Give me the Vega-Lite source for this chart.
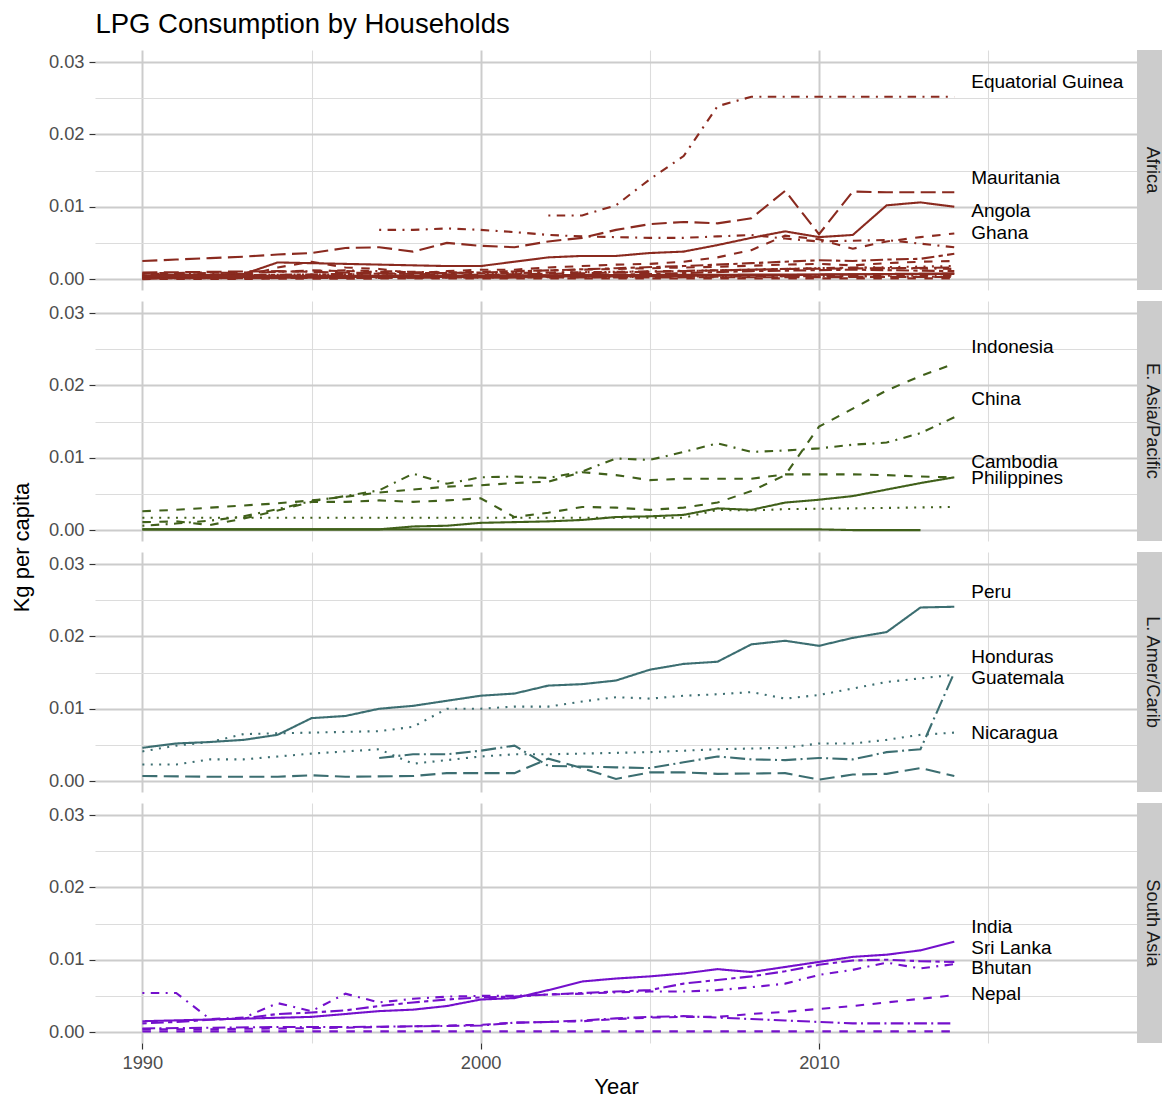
{
  "$schema": "https://vega.github.io/schema/vega-lite/v6.json",
  "padding": {"left": 10, "top": 10, "right": 0, "bottom": 0},
  "title": {"text": "LPG Consumption by Households", "anchor": "start", "fontSize": 27.5, "fontWeight": "normal", "color": "#000000", "offset": 12, "dx": 85},
  "datasets": {
    "labels": [
      {"region": "Africa", "country": "Equatorial Guinea", "year": 2014.5, "value": 0.02724},
      {"region": "Africa", "country": "Mauritania", "year": 2014.5, "value": 0.01396},
      {"region": "Africa", "country": "Angola", "year": 2014.5, "value": 0.0094},
      {"region": "Africa", "country": "Ghana", "year": 2014.5, "value": 0.00636},
      {"region": "E. Asia/Pacific", "country": "Indonesia", "year": 2014.5, "value": 0.0253},
      {"region": "E. Asia/Pacific", "country": "China", "year": 2014.5, "value": 0.0181},
      {"region": "E. Asia/Pacific", "country": "Cambodia", "year": 2014.5, "value": 0.0094},
      {"region": "E. Asia/Pacific", "country": "Philippines", "year": 2014.5, "value": 0.0072},
      {"region": "L. Amer/Carib", "country": "Peru", "year": 2014.5, "value": 0.02613},
      {"region": "L. Amer/Carib", "country": "Honduras", "year": 2014.5, "value": 0.01714},
      {"region": "L. Amer/Carib", "country": "Guatemala", "year": 2014.5, "value": 0.01424},
      {"region": "L. Amer/Carib", "country": "Nicaragua", "year": 2014.5, "value": 0.00664},
      {"region": "South Asia", "country": "India", "year": 2014.5, "value": 0.01452},
      {"region": "South Asia", "country": "Sri Lanka", "year": 2014.5, "value": 0.01161},
      {"region": "South Asia", "country": "Bhutan", "year": 2014.5, "value": 0.00885},
      {"region": "South Asia", "country": "Nepal", "year": 2014.5, "value": 0.00525}
    ],
    "strips": [
      {"region": "Africa"}, {"region": "E. Asia/Pacific"}, {"region": "L. Amer/Carib"}, {"region": "South Asia"}
    ],
    "lpg": [
      {"region": "Africa", "country": "Equatorial Guinea", "year": 2002, "value": 0.0088},
      {"region": "Africa", "country": "Equatorial Guinea", "year": 2003, "value": 0.0088},
      {"region": "Africa", "country": "Equatorial Guinea", "year": 2004, "value": 0.0102},
      {"region": "Africa", "country": "Equatorial Guinea", "year": 2005, "value": 0.0138},
      {"region": "Africa", "country": "Equatorial Guinea", "year": 2006, "value": 0.0170},
      {"region": "Africa", "country": "Equatorial Guinea", "year": 2007, "value": 0.0239},
      {"region": "Africa", "country": "Equatorial Guinea", "year": 2008, "value": 0.0252},
      {"region": "Africa", "country": "Equatorial Guinea", "year": 2009, "value": 0.0252},
      {"region": "Africa", "country": "Equatorial Guinea", "year": 2010, "value": 0.0252},
      {"region": "Africa", "country": "Equatorial Guinea", "year": 2011, "value": 0.0252},
      {"region": "Africa", "country": "Equatorial Guinea", "year": 2012, "value": 0.0252},
      {"region": "Africa", "country": "Equatorial Guinea", "year": 2013, "value": 0.0252},
      {"region": "Africa", "country": "Equatorial Guinea", "year": 2014, "value": 0.0252},
      {"region": "Africa", "country": "Mauritania", "year": 1990, "value": 0.0025},
      {"region": "Africa", "country": "Mauritania", "year": 1991, "value": 0.0027},
      {"region": "Africa", "country": "Mauritania", "year": 1992, "value": 0.0029},
      {"region": "Africa", "country": "Mauritania", "year": 1993, "value": 0.0031},
      {"region": "Africa", "country": "Mauritania", "year": 1994, "value": 0.0034},
      {"region": "Africa", "country": "Mauritania", "year": 1995, "value": 0.0036},
      {"region": "Africa", "country": "Mauritania", "year": 1996, "value": 0.0043},
      {"region": "Africa", "country": "Mauritania", "year": 1997, "value": 0.0044},
      {"region": "Africa", "country": "Mauritania", "year": 1998, "value": 0.0038},
      {"region": "Africa", "country": "Mauritania", "year": 1999, "value": 0.0050},
      {"region": "Africa", "country": "Mauritania", "year": 2000, "value": 0.0046},
      {"region": "Africa", "country": "Mauritania", "year": 2001, "value": 0.0044},
      {"region": "Africa", "country": "Mauritania", "year": 2002, "value": 0.0052},
      {"region": "Africa", "country": "Mauritania", "year": 2003, "value": 0.0057},
      {"region": "Africa", "country": "Mauritania", "year": 2004, "value": 0.0068},
      {"region": "Africa", "country": "Mauritania", "year": 2005, "value": 0.0076},
      {"region": "Africa", "country": "Mauritania", "year": 2006, "value": 0.0079},
      {"region": "Africa", "country": "Mauritania", "year": 2007, "value": 0.0077},
      {"region": "Africa", "country": "Mauritania", "year": 2008, "value": 0.0084},
      {"region": "Africa", "country": "Mauritania", "year": 2009, "value": 0.0122},
      {"region": "Africa", "country": "Mauritania", "year": 2010, "value": 0.0062},
      {"region": "Africa", "country": "Mauritania", "year": 2011, "value": 0.0121},
      {"region": "Africa", "country": "Mauritania", "year": 2012, "value": 0.0120},
      {"region": "Africa", "country": "Mauritania", "year": 2013, "value": 0.0120},
      {"region": "Africa", "country": "Mauritania", "year": 2014, "value": 0.0120},
      {"region": "Africa", "country": "Angola", "year": 1990, "value": 0.0005},
      {"region": "Africa", "country": "Angola", "year": 1991, "value": 0.0006},
      {"region": "Africa", "country": "Angola", "year": 1992, "value": 0.0006},
      {"region": "Africa", "country": "Angola", "year": 1993, "value": 0.0007},
      {"region": "Africa", "country": "Angola", "year": 1994, "value": 0.0023},
      {"region": "Africa", "country": "Angola", "year": 1995, "value": 0.0022},
      {"region": "Africa", "country": "Angola", "year": 1996, "value": 0.0021},
      {"region": "Africa", "country": "Angola", "year": 1997, "value": 0.0020},
      {"region": "Africa", "country": "Angola", "year": 1998, "value": 0.0019},
      {"region": "Africa", "country": "Angola", "year": 1999, "value": 0.0018},
      {"region": "Africa", "country": "Angola", "year": 2000, "value": 0.0018},
      {"region": "Africa", "country": "Angola", "year": 2001, "value": 0.0024},
      {"region": "Africa", "country": "Angola", "year": 2002, "value": 0.0030},
      {"region": "Africa", "country": "Angola", "year": 2003, "value": 0.0032},
      {"region": "Africa", "country": "Angola", "year": 2004, "value": 0.0032},
      {"region": "Africa", "country": "Angola", "year": 2005, "value": 0.0036},
      {"region": "Africa", "country": "Angola", "year": 2006, "value": 0.0038},
      {"region": "Africa", "country": "Angola", "year": 2007, "value": 0.0047},
      {"region": "Africa", "country": "Angola", "year": 2008, "value": 0.0057},
      {"region": "Africa", "country": "Angola", "year": 2009, "value": 0.0066},
      {"region": "Africa", "country": "Angola", "year": 2010, "value": 0.0058},
      {"region": "Africa", "country": "Angola", "year": 2011, "value": 0.0061},
      {"region": "Africa", "country": "Angola", "year": 2012, "value": 0.0102},
      {"region": "Africa", "country": "Angola", "year": 2013, "value": 0.0106},
      {"region": "Africa", "country": "Angola", "year": 2014, "value": 0.0100},
      {"region": "Africa", "country": "Gabon", "year": 1997, "value": 0.0068},
      {"region": "Africa", "country": "Gabon", "year": 1998, "value": 0.0068},
      {"region": "Africa", "country": "Gabon", "year": 1999, "value": 0.0070},
      {"region": "Africa", "country": "Gabon", "year": 2000, "value": 0.0068},
      {"region": "Africa", "country": "Gabon", "year": 2001, "value": 0.0065},
      {"region": "Africa", "country": "Gabon", "year": 2002, "value": 0.0061},
      {"region": "Africa", "country": "Gabon", "year": 2003, "value": 0.0059},
      {"region": "Africa", "country": "Gabon", "year": 2004, "value": 0.0058},
      {"region": "Africa", "country": "Gabon", "year": 2005, "value": 0.0057},
      {"region": "Africa", "country": "Gabon", "year": 2006, "value": 0.0057},
      {"region": "Africa", "country": "Gabon", "year": 2007, "value": 0.0059},
      {"region": "Africa", "country": "Gabon", "year": 2008, "value": 0.0061},
      {"region": "Africa", "country": "Gabon", "year": 2009, "value": 0.0056},
      {"region": "Africa", "country": "Gabon", "year": 2010, "value": 0.0052},
      {"region": "Africa", "country": "Gabon", "year": 2011, "value": 0.0053},
      {"region": "Africa", "country": "Gabon", "year": 2012, "value": 0.0054},
      {"region": "Africa", "country": "Gabon", "year": 2013, "value": 0.0049},
      {"region": "Africa", "country": "Gabon", "year": 2014, "value": 0.0044},
      {"region": "Africa", "country": "Ghana", "year": 1990, "value": 0.0003},
      {"region": "Africa", "country": "Ghana", "year": 1991, "value": 0.0003},
      {"region": "Africa", "country": "Ghana", "year": 1992, "value": 0.0004},
      {"region": "Africa", "country": "Ghana", "year": 1993, "value": 0.0004},
      {"region": "Africa", "country": "Ghana", "year": 1994, "value": 0.0016},
      {"region": "Africa", "country": "Ghana", "year": 1995, "value": 0.0024},
      {"region": "Africa", "country": "Ghana", "year": 1996, "value": 0.0016},
      {"region": "Africa", "country": "Ghana", "year": 1997, "value": 0.0014},
      {"region": "Africa", "country": "Ghana", "year": 1998, "value": 0.0008},
      {"region": "Africa", "country": "Ghana", "year": 1999, "value": 0.0011},
      {"region": "Africa", "country": "Ghana", "year": 2000, "value": 0.0013},
      {"region": "Africa", "country": "Ghana", "year": 2001, "value": 0.0013},
      {"region": "Africa", "country": "Ghana", "year": 2002, "value": 0.0016},
      {"region": "Africa", "country": "Ghana", "year": 2003, "value": 0.0018},
      {"region": "Africa", "country": "Ghana", "year": 2004, "value": 0.0020},
      {"region": "Africa", "country": "Ghana", "year": 2005, "value": 0.0021},
      {"region": "Africa", "country": "Ghana", "year": 2006, "value": 0.0024},
      {"region": "Africa", "country": "Ghana", "year": 2007, "value": 0.0030},
      {"region": "Africa", "country": "Ghana", "year": 2008, "value": 0.0040},
      {"region": "Africa", "country": "Ghana", "year": 2009, "value": 0.0060},
      {"region": "Africa", "country": "Ghana", "year": 2010, "value": 0.0055},
      {"region": "Africa", "country": "Ghana", "year": 2011, "value": 0.0042},
      {"region": "Africa", "country": "Ghana", "year": 2012, "value": 0.0052},
      {"region": "Africa", "country": "Ghana", "year": 2013, "value": 0.0058},
      {"region": "Africa", "country": "Ghana", "year": 2014, "value": 0.0063},
      {"region": "Africa", "country": "Nigeria", "year": 1990, "value": 0.0005},
      {"region": "Africa", "country": "Nigeria", "year": 1992, "value": 0.0005},
      {"region": "Africa", "country": "Nigeria", "year": 1994, "value": 0.0006},
      {"region": "Africa", "country": "Nigeria", "year": 1996, "value": 0.0007},
      {"region": "Africa", "country": "Nigeria", "year": 1998, "value": 0.0008},
      {"region": "Africa", "country": "Nigeria", "year": 2000, "value": 0.0009},
      {"region": "Africa", "country": "Nigeria", "year": 2002, "value": 0.0012},
      {"region": "Africa", "country": "Nigeria", "year": 2004, "value": 0.0015},
      {"region": "Africa", "country": "Nigeria", "year": 2006, "value": 0.0018},
      {"region": "Africa", "country": "Nigeria", "year": 2008, "value": 0.0022},
      {"region": "Africa", "country": "Nigeria", "year": 2010, "value": 0.0026},
      {"region": "Africa", "country": "Nigeria", "year": 2011, "value": 0.0025},
      {"region": "Africa", "country": "Nigeria", "year": 2012, "value": 0.0027},
      {"region": "Africa", "country": "Nigeria", "year": 2013, "value": 0.0028},
      {"region": "Africa", "country": "Nigeria", "year": 2014, "value": 0.0035},
      {"region": "Africa", "country": "Cameroon", "year": 1990, "value": 0.0008},
      {"region": "Africa", "country": "Cameroon", "year": 1992, "value": 0.0009},
      {"region": "Africa", "country": "Cameroon", "year": 1993, "value": 0.0008},
      {"region": "Africa", "country": "Cameroon", "year": 1995, "value": 0.0012},
      {"region": "Africa", "country": "Cameroon", "year": 1997, "value": 0.0010},
      {"region": "Africa", "country": "Cameroon", "year": 1999, "value": 0.0009},
      {"region": "Africa", "country": "Cameroon", "year": 2001, "value": 0.0011},
      {"region": "Africa", "country": "Cameroon", "year": 2003, "value": 0.0013},
      {"region": "Africa", "country": "Cameroon", "year": 2005, "value": 0.0015},
      {"region": "Africa", "country": "Cameroon", "year": 2007, "value": 0.0017},
      {"region": "Africa", "country": "Cameroon", "year": 2009, "value": 0.0020},
      {"region": "Africa", "country": "Cameroon", "year": 2010, "value": 0.0021},
      {"region": "Africa", "country": "Cameroon", "year": 2011, "value": 0.0019},
      {"region": "Africa", "country": "Cameroon", "year": 2012, "value": 0.0022},
      {"region": "Africa", "country": "Cameroon", "year": 2013, "value": 0.0024},
      {"region": "Africa", "country": "Cameroon", "year": 2014, "value": 0.0025},
      {"region": "Africa", "country": "Cote d'Ivoire", "year": 1990, "value": 0.0006},
      {"region": "Africa", "country": "Cote d'Ivoire", "year": 1994, "value": 0.0006},
      {"region": "Africa", "country": "Cote d'Ivoire", "year": 1998, "value": 0.0007},
      {"region": "Africa", "country": "Cote d'Ivoire", "year": 2002, "value": 0.0009},
      {"region": "Africa", "country": "Cote d'Ivoire", "year": 2006, "value": 0.0011},
      {"region": "Africa", "country": "Cote d'Ivoire", "year": 2010, "value": 0.0015},
      {"region": "Africa", "country": "Cote d'Ivoire", "year": 2014, "value": 0.0018},
      {"region": "Africa", "country": "Senegal", "year": 1990, "value": 0.0009},
      {"region": "Africa", "country": "Senegal", "year": 1992, "value": 0.0010},
      {"region": "Africa", "country": "Senegal", "year": 1994, "value": 0.0011},
      {"region": "Africa", "country": "Senegal", "year": 1996, "value": 0.0009},
      {"region": "Africa", "country": "Senegal", "year": 1998, "value": 0.0007},
      {"region": "Africa", "country": "Senegal", "year": 2000, "value": 0.0006},
      {"region": "Africa", "country": "Senegal", "year": 2003, "value": 0.0008},
      {"region": "Africa", "country": "Senegal", "year": 2006, "value": 0.0011},
      {"region": "Africa", "country": "Senegal", "year": 2009, "value": 0.0014},
      {"region": "Africa", "country": "Senegal", "year": 2012, "value": 0.0015},
      {"region": "Africa", "country": "Senegal", "year": 2014, "value": 0.0016},
      {"region": "Africa", "country": "Kenya", "year": 1990, "value": 0.0002},
      {"region": "Africa", "country": "Kenya", "year": 1995, "value": 0.0003},
      {"region": "Africa", "country": "Kenya", "year": 2000, "value": 0.0003},
      {"region": "Africa", "country": "Kenya", "year": 2005, "value": 0.0004},
      {"region": "Africa", "country": "Kenya", "year": 2010, "value": 0.0006},
      {"region": "Africa", "country": "Kenya", "year": 2014, "value": 0.0008},
      {"region": "Africa", "country": "Sudan", "year": 1990, "value": 0.0001},
      {"region": "Africa", "country": "Sudan", "year": 1995, "value": 0.0002},
      {"region": "Africa", "country": "Sudan", "year": 2000, "value": 0.0004},
      {"region": "Africa", "country": "Sudan", "year": 2005, "value": 0.0007},
      {"region": "Africa", "country": "Sudan", "year": 2008, "value": 0.0011},
      {"region": "Africa", "country": "Sudan", "year": 2011, "value": 0.0013},
      {"region": "Africa", "country": "Sudan", "year": 2014, "value": 0.0011},
      {"region": "Africa", "country": "Zambia", "year": 1990, "value": 0.0003},
      {"region": "Africa", "country": "Zambia", "year": 2000, "value": 0.0003},
      {"region": "Africa", "country": "Zambia", "year": 2010, "value": 0.0004},
      {"region": "Africa", "country": "Zambia", "year": 2014, "value": 0.0003},
      {"region": "Africa", "country": "Tanzania", "year": 1990, "value": 0.0001},
      {"region": "Africa", "country": "Tanzania", "year": 1998, "value": 0.0002},
      {"region": "Africa", "country": "Tanzania", "year": 2005, "value": 0.0003},
      {"region": "Africa", "country": "Tanzania", "year": 2014, "value": 0.0005},
      {"region": "Africa", "country": "Ethiopia", "year": 1990, "value": 0.0000},
      {"region": "Africa", "country": "Ethiopia", "year": 2000, "value": 0.0001},
      {"region": "Africa", "country": "Ethiopia", "year": 2014, "value": 0.0001},
      {"region": "Africa", "country": "Mozambique", "year": 1990, "value": 0.0001},
      {"region": "Africa", "country": "Mozambique", "year": 2000, "value": 0.0002},
      {"region": "Africa", "country": "Mozambique", "year": 2014, "value": 0.0003},
      {"region": "Africa", "country": "Togo", "year": 1990, "value": 0.0004},
      {"region": "Africa", "country": "Togo", "year": 2000, "value": 0.0005},
      {"region": "Africa", "country": "Togo", "year": 2014, "value": 0.0007},
      {"region": "Africa", "country": "Congo", "year": 1990, "value": 0.0007},
      {"region": "Africa", "country": "Congo", "year": 1993, "value": 0.0009},
      {"region": "Africa", "country": "Congo", "year": 1996, "value": 0.0012},
      {"region": "Africa", "country": "Congo", "year": 2000, "value": 0.0008},
      {"region": "Africa", "country": "Congo", "year": 2004, "value": 0.0010},
      {"region": "Africa", "country": "Congo", "year": 2008, "value": 0.0013},
      {"region": "Africa", "country": "Congo", "year": 2011, "value": 0.0016},
      {"region": "Africa", "country": "Congo", "year": 2014, "value": 0.0014},
      {"region": "E. Asia/Pacific", "country": "Indonesia", "year": 1990, "value": 0.0011},
      {"region": "E. Asia/Pacific", "country": "Indonesia", "year": 1991, "value": 0.0012},
      {"region": "E. Asia/Pacific", "country": "Indonesia", "year": 1992, "value": 0.0007},
      {"region": "E. Asia/Pacific", "country": "Indonesia", "year": 1993, "value": 0.0016},
      {"region": "E. Asia/Pacific", "country": "Indonesia", "year": 1994, "value": 0.0027},
      {"region": "E. Asia/Pacific", "country": "Indonesia", "year": 1995, "value": 0.0039},
      {"region": "E. Asia/Pacific", "country": "Indonesia", "year": 1996, "value": 0.0039},
      {"region": "E. Asia/Pacific", "country": "Indonesia", "year": 1997, "value": 0.0041},
      {"region": "E. Asia/Pacific", "country": "Indonesia", "year": 1998, "value": 0.0039},
      {"region": "E. Asia/Pacific", "country": "Indonesia", "year": 1999, "value": 0.0041},
      {"region": "E. Asia/Pacific", "country": "Indonesia", "year": 2000, "value": 0.0044},
      {"region": "E. Asia/Pacific", "country": "Indonesia", "year": 2001, "value": 0.0018},
      {"region": "E. Asia/Pacific", "country": "Indonesia", "year": 2002, "value": 0.0024},
      {"region": "E. Asia/Pacific", "country": "Indonesia", "year": 2003, "value": 0.0032},
      {"region": "E. Asia/Pacific", "country": "Indonesia", "year": 2004, "value": 0.0031},
      {"region": "E. Asia/Pacific", "country": "Indonesia", "year": 2005, "value": 0.0028},
      {"region": "E. Asia/Pacific", "country": "Indonesia", "year": 2006, "value": 0.0031},
      {"region": "E. Asia/Pacific", "country": "Indonesia", "year": 2007, "value": 0.0038},
      {"region": "E. Asia/Pacific", "country": "Indonesia", "year": 2008, "value": 0.0054},
      {"region": "E. Asia/Pacific", "country": "Indonesia", "year": 2009, "value": 0.0076},
      {"region": "E. Asia/Pacific", "country": "Indonesia", "year": 2010, "value": 0.0143},
      {"region": "E. Asia/Pacific", "country": "Indonesia", "year": 2011, "value": 0.0168},
      {"region": "E. Asia/Pacific", "country": "Indonesia", "year": 2012, "value": 0.0193},
      {"region": "E. Asia/Pacific", "country": "Indonesia", "year": 2013, "value": 0.0213},
      {"region": "E. Asia/Pacific", "country": "Indonesia", "year": 2014, "value": 0.0230},
      {"region": "E. Asia/Pacific", "country": "China", "year": 1990, "value": 0.0006},
      {"region": "E. Asia/Pacific", "country": "China", "year": 1991, "value": 0.0009},
      {"region": "E. Asia/Pacific", "country": "China", "year": 1992, "value": 0.0013},
      {"region": "E. Asia/Pacific", "country": "China", "year": 1993, "value": 0.0019},
      {"region": "E. Asia/Pacific", "country": "China", "year": 1994, "value": 0.0029},
      {"region": "E. Asia/Pacific", "country": "China", "year": 1995, "value": 0.0040},
      {"region": "E. Asia/Pacific", "country": "China", "year": 1996, "value": 0.0047},
      {"region": "E. Asia/Pacific", "country": "China", "year": 1997, "value": 0.0055},
      {"region": "E. Asia/Pacific", "country": "China", "year": 1998, "value": 0.0078},
      {"region": "E. Asia/Pacific", "country": "China", "year": 1999, "value": 0.0064},
      {"region": "E. Asia/Pacific", "country": "China", "year": 2000, "value": 0.0073},
      {"region": "E. Asia/Pacific", "country": "China", "year": 2001, "value": 0.0074},
      {"region": "E. Asia/Pacific", "country": "China", "year": 2002, "value": 0.0072},
      {"region": "E. Asia/Pacific", "country": "China", "year": 2003, "value": 0.0081},
      {"region": "E. Asia/Pacific", "country": "China", "year": 2004, "value": 0.0099},
      {"region": "E. Asia/Pacific", "country": "China", "year": 2005, "value": 0.0097},
      {"region": "E. Asia/Pacific", "country": "China", "year": 2006, "value": 0.0108},
      {"region": "E. Asia/Pacific", "country": "China", "year": 2007, "value": 0.0120},
      {"region": "E. Asia/Pacific", "country": "China", "year": 2008, "value": 0.0108},
      {"region": "E. Asia/Pacific", "country": "China", "year": 2009, "value": 0.0110},
      {"region": "E. Asia/Pacific", "country": "China", "year": 2010, "value": 0.0113},
      {"region": "E. Asia/Pacific", "country": "China", "year": 2011, "value": 0.0118},
      {"region": "E. Asia/Pacific", "country": "China", "year": 2012, "value": 0.0121},
      {"region": "E. Asia/Pacific", "country": "China", "year": 2013, "value": 0.0134},
      {"region": "E. Asia/Pacific", "country": "China", "year": 2014, "value": 0.0156},
      {"region": "E. Asia/Pacific", "country": "Cambodia", "year": 1990, "value": 0.0026},
      {"region": "E. Asia/Pacific", "country": "Cambodia", "year": 1991, "value": 0.0028},
      {"region": "E. Asia/Pacific", "country": "Cambodia", "year": 1992, "value": 0.0031},
      {"region": "E. Asia/Pacific", "country": "Cambodia", "year": 1993, "value": 0.0034},
      {"region": "E. Asia/Pacific", "country": "Cambodia", "year": 1994, "value": 0.0037},
      {"region": "E. Asia/Pacific", "country": "Cambodia", "year": 1995, "value": 0.0041},
      {"region": "E. Asia/Pacific", "country": "Cambodia", "year": 1996, "value": 0.0046},
      {"region": "E. Asia/Pacific", "country": "Cambodia", "year": 1997, "value": 0.0052},
      {"region": "E. Asia/Pacific", "country": "Cambodia", "year": 1998, "value": 0.0056},
      {"region": "E. Asia/Pacific", "country": "Cambodia", "year": 1999, "value": 0.0060},
      {"region": "E. Asia/Pacific", "country": "Cambodia", "year": 2000, "value": 0.0062},
      {"region": "E. Asia/Pacific", "country": "Cambodia", "year": 2001, "value": 0.0065},
      {"region": "E. Asia/Pacific", "country": "Cambodia", "year": 2002, "value": 0.0067},
      {"region": "E. Asia/Pacific", "country": "Cambodia", "year": 2003, "value": 0.0080},
      {"region": "E. Asia/Pacific", "country": "Cambodia", "year": 2004, "value": 0.0076},
      {"region": "E. Asia/Pacific", "country": "Cambodia", "year": 2005, "value": 0.0069},
      {"region": "E. Asia/Pacific", "country": "Cambodia", "year": 2006, "value": 0.0071},
      {"region": "E. Asia/Pacific", "country": "Cambodia", "year": 2007, "value": 0.0071},
      {"region": "E. Asia/Pacific", "country": "Cambodia", "year": 2008, "value": 0.0071},
      {"region": "E. Asia/Pacific", "country": "Cambodia", "year": 2009, "value": 0.0077},
      {"region": "E. Asia/Pacific", "country": "Cambodia", "year": 2010, "value": 0.0077},
      {"region": "E. Asia/Pacific", "country": "Cambodia", "year": 2011, "value": 0.0077},
      {"region": "E. Asia/Pacific", "country": "Cambodia", "year": 2012, "value": 0.0076},
      {"region": "E. Asia/Pacific", "country": "Cambodia", "year": 2013, "value": 0.0074},
      {"region": "E. Asia/Pacific", "country": "Cambodia", "year": 2014, "value": 0.0073},
      {"region": "E. Asia/Pacific", "country": "Philippines", "year": 1990, "value": 0.0001},
      {"region": "E. Asia/Pacific", "country": "Philippines", "year": 1994, "value": 0.0001},
      {"region": "E. Asia/Pacific", "country": "Philippines", "year": 1997, "value": 0.0001},
      {"region": "E. Asia/Pacific", "country": "Philippines", "year": 1998, "value": 0.0005},
      {"region": "E. Asia/Pacific", "country": "Philippines", "year": 1999, "value": 0.0006},
      {"region": "E. Asia/Pacific", "country": "Philippines", "year": 2000, "value": 0.0010},
      {"region": "E. Asia/Pacific", "country": "Philippines", "year": 2001, "value": 0.0011},
      {"region": "E. Asia/Pacific", "country": "Philippines", "year": 2002, "value": 0.0012},
      {"region": "E. Asia/Pacific", "country": "Philippines", "year": 2003, "value": 0.0014},
      {"region": "E. Asia/Pacific", "country": "Philippines", "year": 2004, "value": 0.0018},
      {"region": "E. Asia/Pacific", "country": "Philippines", "year": 2005, "value": 0.0019},
      {"region": "E. Asia/Pacific", "country": "Philippines", "year": 2006, "value": 0.0021},
      {"region": "E. Asia/Pacific", "country": "Philippines", "year": 2007, "value": 0.0030},
      {"region": "E. Asia/Pacific", "country": "Philippines", "year": 2008, "value": 0.0028},
      {"region": "E. Asia/Pacific", "country": "Philippines", "year": 2009, "value": 0.0038},
      {"region": "E. Asia/Pacific", "country": "Philippines", "year": 2010, "value": 0.0042},
      {"region": "E. Asia/Pacific", "country": "Philippines", "year": 2011, "value": 0.0047},
      {"region": "E. Asia/Pacific", "country": "Philippines", "year": 2012, "value": 0.0056},
      {"region": "E. Asia/Pacific", "country": "Philippines", "year": 2013, "value": 0.0065},
      {"region": "E. Asia/Pacific", "country": "Philippines", "year": 2014, "value": 0.0073},
      {"region": "E. Asia/Pacific", "country": "Vietnam", "year": 1990, "value": 0.0017},
      {"region": "E. Asia/Pacific", "country": "Vietnam", "year": 1998, "value": 0.0017},
      {"region": "E. Asia/Pacific", "country": "Vietnam", "year": 2006, "value": 0.0017},
      {"region": "E. Asia/Pacific", "country": "Vietnam", "year": 2007, "value": 0.0028},
      {"region": "E. Asia/Pacific", "country": "Vietnam", "year": 2008, "value": 0.0027},
      {"region": "E. Asia/Pacific", "country": "Vietnam", "year": 2009, "value": 0.0029},
      {"region": "E. Asia/Pacific", "country": "Vietnam", "year": 2011, "value": 0.0030},
      {"region": "E. Asia/Pacific", "country": "Vietnam", "year": 2014, "value": 0.0032},
      {"region": "E. Asia/Pacific", "country": "Mongolia", "year": 1990, "value": 0.0001},
      {"region": "E. Asia/Pacific", "country": "Mongolia", "year": 2000, "value": 0.0001},
      {"region": "E. Asia/Pacific", "country": "Mongolia", "year": 2010, "value": 0.0001},
      {"region": "E. Asia/Pacific", "country": "Mongolia", "year": 2011, "value": 0.0000},
      {"region": "E. Asia/Pacific", "country": "Mongolia", "year": 2013, "value": 0.0000},
      {"region": "L. Amer/Carib", "country": "Peru", "year": 1990, "value": 0.0046},
      {"region": "L. Amer/Carib", "country": "Peru", "year": 1991, "value": 0.0052},
      {"region": "L. Amer/Carib", "country": "Peru", "year": 1992, "value": 0.0054},
      {"region": "L. Amer/Carib", "country": "Peru", "year": 1993, "value": 0.0057},
      {"region": "L. Amer/Carib", "country": "Peru", "year": 1994, "value": 0.0064},
      {"region": "L. Amer/Carib", "country": "Peru", "year": 1995, "value": 0.0087},
      {"region": "L. Amer/Carib", "country": "Peru", "year": 1996, "value": 0.0090},
      {"region": "L. Amer/Carib", "country": "Peru", "year": 1997, "value": 0.0100},
      {"region": "L. Amer/Carib", "country": "Peru", "year": 1998, "value": 0.0104},
      {"region": "L. Amer/Carib", "country": "Peru", "year": 1999, "value": 0.0111},
      {"region": "L. Amer/Carib", "country": "Peru", "year": 2000, "value": 0.0118},
      {"region": "L. Amer/Carib", "country": "Peru", "year": 2001, "value": 0.0121},
      {"region": "L. Amer/Carib", "country": "Peru", "year": 2002, "value": 0.0132},
      {"region": "L. Amer/Carib", "country": "Peru", "year": 2003, "value": 0.0134},
      {"region": "L. Amer/Carib", "country": "Peru", "year": 2004, "value": 0.0139},
      {"region": "L. Amer/Carib", "country": "Peru", "year": 2005, "value": 0.0154},
      {"region": "L. Amer/Carib", "country": "Peru", "year": 2006, "value": 0.0162},
      {"region": "L. Amer/Carib", "country": "Peru", "year": 2007, "value": 0.0165},
      {"region": "L. Amer/Carib", "country": "Peru", "year": 2008, "value": 0.0189},
      {"region": "L. Amer/Carib", "country": "Peru", "year": 2009, "value": 0.0194},
      {"region": "L. Amer/Carib", "country": "Peru", "year": 2010, "value": 0.0187},
      {"region": "L. Amer/Carib", "country": "Peru", "year": 2011, "value": 0.0198},
      {"region": "L. Amer/Carib", "country": "Peru", "year": 2012, "value": 0.0206},
      {"region": "L. Amer/Carib", "country": "Peru", "year": 2013, "value": 0.0240},
      {"region": "L. Amer/Carib", "country": "Peru", "year": 2014, "value": 0.0241},
      {"region": "L. Amer/Carib", "country": "Honduras", "year": 1990, "value": 0.0041},
      {"region": "L. Amer/Carib", "country": "Honduras", "year": 1991, "value": 0.0049},
      {"region": "L. Amer/Carib", "country": "Honduras", "year": 1992, "value": 0.0054},
      {"region": "L. Amer/Carib", "country": "Honduras", "year": 1993, "value": 0.0065},
      {"region": "L. Amer/Carib", "country": "Honduras", "year": 1994, "value": 0.0066},
      {"region": "L. Amer/Carib", "country": "Honduras", "year": 1995, "value": 0.0067},
      {"region": "L. Amer/Carib", "country": "Honduras", "year": 1996, "value": 0.0068},
      {"region": "L. Amer/Carib", "country": "Honduras", "year": 1997, "value": 0.0069},
      {"region": "L. Amer/Carib", "country": "Honduras", "year": 1998, "value": 0.0075},
      {"region": "L. Amer/Carib", "country": "Honduras", "year": 1999, "value": 0.0100},
      {"region": "L. Amer/Carib", "country": "Honduras", "year": 2000, "value": 0.0100},
      {"region": "L. Amer/Carib", "country": "Honduras", "year": 2001, "value": 0.0103},
      {"region": "L. Amer/Carib", "country": "Honduras", "year": 2002, "value": 0.0103},
      {"region": "L. Amer/Carib", "country": "Honduras", "year": 2003, "value": 0.0110},
      {"region": "L. Amer/Carib", "country": "Honduras", "year": 2004, "value": 0.0116},
      {"region": "L. Amer/Carib", "country": "Honduras", "year": 2005, "value": 0.0114},
      {"region": "L. Amer/Carib", "country": "Honduras", "year": 2006, "value": 0.0118},
      {"region": "L. Amer/Carib", "country": "Honduras", "year": 2007, "value": 0.0120},
      {"region": "L. Amer/Carib", "country": "Honduras", "year": 2008, "value": 0.0123},
      {"region": "L. Amer/Carib", "country": "Honduras", "year": 2009, "value": 0.0114},
      {"region": "L. Amer/Carib", "country": "Honduras", "year": 2010, "value": 0.0119},
      {"region": "L. Amer/Carib", "country": "Honduras", "year": 2011, "value": 0.0128},
      {"region": "L. Amer/Carib", "country": "Honduras", "year": 2012, "value": 0.0137},
      {"region": "L. Amer/Carib", "country": "Honduras", "year": 2013, "value": 0.0142},
      {"region": "L. Amer/Carib", "country": "Honduras", "year": 2014, "value": 0.0147},
      {"region": "L. Amer/Carib", "country": "Guatemala", "year": 1997, "value": 0.0032},
      {"region": "L. Amer/Carib", "country": "Guatemala", "year": 1998, "value": 0.0037},
      {"region": "L. Amer/Carib", "country": "Guatemala", "year": 1999, "value": 0.0037},
      {"region": "L. Amer/Carib", "country": "Guatemala", "year": 2000, "value": 0.0042},
      {"region": "L. Amer/Carib", "country": "Guatemala", "year": 2001, "value": 0.0049},
      {"region": "L. Amer/Carib", "country": "Guatemala", "year": 2002, "value": 0.0021},
      {"region": "L. Amer/Carib", "country": "Guatemala", "year": 2003, "value": 0.0020},
      {"region": "L. Amer/Carib", "country": "Guatemala", "year": 2004, "value": 0.0019},
      {"region": "L. Amer/Carib", "country": "Guatemala", "year": 2005, "value": 0.0018},
      {"region": "L. Amer/Carib", "country": "Guatemala", "year": 2006, "value": 0.0026},
      {"region": "L. Amer/Carib", "country": "Guatemala", "year": 2007, "value": 0.0034},
      {"region": "L. Amer/Carib", "country": "Guatemala", "year": 2008, "value": 0.0030},
      {"region": "L. Amer/Carib", "country": "Guatemala", "year": 2009, "value": 0.0029},
      {"region": "L. Amer/Carib", "country": "Guatemala", "year": 2010, "value": 0.0032},
      {"region": "L. Amer/Carib", "country": "Guatemala", "year": 2011, "value": 0.0030},
      {"region": "L. Amer/Carib", "country": "Guatemala", "year": 2012, "value": 0.0040},
      {"region": "L. Amer/Carib", "country": "Guatemala", "year": 2013, "value": 0.0044},
      {"region": "L. Amer/Carib", "country": "Guatemala", "year": 2014, "value": 0.0150},
      {"region": "L. Amer/Carib", "country": "Nicaragua", "year": 1990, "value": 0.0023},
      {"region": "L. Amer/Carib", "country": "Nicaragua", "year": 1991, "value": 0.0023},
      {"region": "L. Amer/Carib", "country": "Nicaragua", "year": 1992, "value": 0.0030},
      {"region": "L. Amer/Carib", "country": "Nicaragua", "year": 1993, "value": 0.0030},
      {"region": "L. Amer/Carib", "country": "Nicaragua", "year": 1994, "value": 0.0034},
      {"region": "L. Amer/Carib", "country": "Nicaragua", "year": 1995, "value": 0.0038},
      {"region": "L. Amer/Carib", "country": "Nicaragua", "year": 1996, "value": 0.0041},
      {"region": "L. Amer/Carib", "country": "Nicaragua", "year": 1997, "value": 0.0044},
      {"region": "L. Amer/Carib", "country": "Nicaragua", "year": 1998, "value": 0.0024},
      {"region": "L. Amer/Carib", "country": "Nicaragua", "year": 1999, "value": 0.0029},
      {"region": "L. Amer/Carib", "country": "Nicaragua", "year": 2000, "value": 0.0034},
      {"region": "L. Amer/Carib", "country": "Nicaragua", "year": 2001, "value": 0.0037},
      {"region": "L. Amer/Carib", "country": "Nicaragua", "year": 2002, "value": 0.0037},
      {"region": "L. Amer/Carib", "country": "Nicaragua", "year": 2003, "value": 0.0038},
      {"region": "L. Amer/Carib", "country": "Nicaragua", "year": 2005, "value": 0.0040},
      {"region": "L. Amer/Carib", "country": "Nicaragua", "year": 2007, "value": 0.0044},
      {"region": "L. Amer/Carib", "country": "Nicaragua", "year": 2009, "value": 0.0046},
      {"region": "L. Amer/Carib", "country": "Nicaragua", "year": 2010, "value": 0.0052},
      {"region": "L. Amer/Carib", "country": "Nicaragua", "year": 2011, "value": 0.0052},
      {"region": "L. Amer/Carib", "country": "Nicaragua", "year": 2012, "value": 0.0057},
      {"region": "L. Amer/Carib", "country": "Nicaragua", "year": 2013, "value": 0.0064},
      {"region": "L. Amer/Carib", "country": "Nicaragua", "year": 2014, "value": 0.0067},
      {"region": "L. Amer/Carib", "country": "Bolivia", "year": 1990, "value": 0.0007},
      {"region": "L. Amer/Carib", "country": "Bolivia", "year": 1992, "value": 0.0006},
      {"region": "L. Amer/Carib", "country": "Bolivia", "year": 1994, "value": 0.0006},
      {"region": "L. Amer/Carib", "country": "Bolivia", "year": 1995, "value": 0.0008},
      {"region": "L. Amer/Carib", "country": "Bolivia", "year": 1996, "value": 0.0006},
      {"region": "L. Amer/Carib", "country": "Bolivia", "year": 1998, "value": 0.0007},
      {"region": "L. Amer/Carib", "country": "Bolivia", "year": 1999, "value": 0.0011},
      {"region": "L. Amer/Carib", "country": "Bolivia", "year": 2001, "value": 0.0011},
      {"region": "L. Amer/Carib", "country": "Bolivia", "year": 2002, "value": 0.0031},
      {"region": "L. Amer/Carib", "country": "Bolivia", "year": 2003, "value": 0.0018},
      {"region": "L. Amer/Carib", "country": "Bolivia", "year": 2004, "value": 0.0003},
      {"region": "L. Amer/Carib", "country": "Bolivia", "year": 2005, "value": 0.0012},
      {"region": "L. Amer/Carib", "country": "Bolivia", "year": 2006, "value": 0.0012},
      {"region": "L. Amer/Carib", "country": "Bolivia", "year": 2007, "value": 0.0010},
      {"region": "L. Amer/Carib", "country": "Bolivia", "year": 2009, "value": 0.0011},
      {"region": "L. Amer/Carib", "country": "Bolivia", "year": 2010, "value": 0.0002},
      {"region": "L. Amer/Carib", "country": "Bolivia", "year": 2011, "value": 0.0009},
      {"region": "L. Amer/Carib", "country": "Bolivia", "year": 2012, "value": 0.0010},
      {"region": "L. Amer/Carib", "country": "Bolivia", "year": 2013, "value": 0.0018},
      {"region": "L. Amer/Carib", "country": "Bolivia", "year": 2014, "value": 0.0007},
      {"region": "South Asia", "country": "India", "year": 1990, "value": 0.0015},
      {"region": "South Asia", "country": "India", "year": 1995, "value": 0.0021},
      {"region": "South Asia", "country": "India", "year": 1996, "value": 0.0025},
      {"region": "South Asia", "country": "India", "year": 1997, "value": 0.0029},
      {"region": "South Asia", "country": "India", "year": 1998, "value": 0.0031},
      {"region": "South Asia", "country": "India", "year": 1999, "value": 0.0036},
      {"region": "South Asia", "country": "India", "year": 2000, "value": 0.0045},
      {"region": "South Asia", "country": "India", "year": 2001, "value": 0.0047},
      {"region": "South Asia", "country": "India", "year": 2002, "value": 0.0058},
      {"region": "South Asia", "country": "India", "year": 2003, "value": 0.0070},
      {"region": "South Asia", "country": "India", "year": 2004, "value": 0.0074},
      {"region": "South Asia", "country": "India", "year": 2005, "value": 0.0077},
      {"region": "South Asia", "country": "India", "year": 2006, "value": 0.0081},
      {"region": "South Asia", "country": "India", "year": 2007, "value": 0.0087},
      {"region": "South Asia", "country": "India", "year": 2008, "value": 0.0083},
      {"region": "South Asia", "country": "India", "year": 2009, "value": 0.0090},
      {"region": "South Asia", "country": "India", "year": 2010, "value": 0.0097},
      {"region": "South Asia", "country": "India", "year": 2011, "value": 0.0104},
      {"region": "South Asia", "country": "India", "year": 2012, "value": 0.0107},
      {"region": "South Asia", "country": "India", "year": 2013, "value": 0.0113},
      {"region": "South Asia", "country": "India", "year": 2014, "value": 0.0125},
      {"region": "South Asia", "country": "Sri Lanka", "year": 1990, "value": 0.0012},
      {"region": "South Asia", "country": "Sri Lanka", "year": 1991, "value": 0.0014},
      {"region": "South Asia", "country": "Sri Lanka", "year": 1992, "value": 0.0017},
      {"region": "South Asia", "country": "Sri Lanka", "year": 1993, "value": 0.0019},
      {"region": "South Asia", "country": "Sri Lanka", "year": 1994, "value": 0.0025},
      {"region": "South Asia", "country": "Sri Lanka", "year": 1995, "value": 0.0027},
      {"region": "South Asia", "country": "Sri Lanka", "year": 1996, "value": 0.0030},
      {"region": "South Asia", "country": "Sri Lanka", "year": 1997, "value": 0.0036},
      {"region": "South Asia", "country": "Sri Lanka", "year": 1998, "value": 0.0041},
      {"region": "South Asia", "country": "Sri Lanka", "year": 1999, "value": 0.0045},
      {"region": "South Asia", "country": "Sri Lanka", "year": 2000, "value": 0.0048},
      {"region": "South Asia", "country": "Sri Lanka", "year": 2001, "value": 0.0049},
      {"region": "South Asia", "country": "Sri Lanka", "year": 2002, "value": 0.0052},
      {"region": "South Asia", "country": "Sri Lanka", "year": 2003, "value": 0.0054},
      {"region": "South Asia", "country": "Sri Lanka", "year": 2004, "value": 0.0056},
      {"region": "South Asia", "country": "Sri Lanka", "year": 2005, "value": 0.0058},
      {"region": "South Asia", "country": "Sri Lanka", "year": 2006, "value": 0.0067},
      {"region": "South Asia", "country": "Sri Lanka", "year": 2007, "value": 0.0072},
      {"region": "South Asia", "country": "Sri Lanka", "year": 2008, "value": 0.0077},
      {"region": "South Asia", "country": "Sri Lanka", "year": 2009, "value": 0.0084},
      {"region": "South Asia", "country": "Sri Lanka", "year": 2010, "value": 0.0093},
      {"region": "South Asia", "country": "Sri Lanka", "year": 2011, "value": 0.0099},
      {"region": "South Asia", "country": "Sri Lanka", "year": 2012, "value": 0.0100},
      {"region": "South Asia", "country": "Sri Lanka", "year": 2013, "value": 0.0098},
      {"region": "South Asia", "country": "Sri Lanka", "year": 2014, "value": 0.0097},
      {"region": "South Asia", "country": "Bhutan", "year": 1990, "value": 0.0054},
      {"region": "South Asia", "country": "Bhutan", "year": 1991, "value": 0.0054},
      {"region": "South Asia", "country": "Bhutan", "year": 1992, "value": 0.0018},
      {"region": "South Asia", "country": "Bhutan", "year": 1993, "value": 0.0020},
      {"region": "South Asia", "country": "Bhutan", "year": 1994, "value": 0.0040},
      {"region": "South Asia", "country": "Bhutan", "year": 1995, "value": 0.0029},
      {"region": "South Asia", "country": "Bhutan", "year": 1996, "value": 0.0053},
      {"region": "South Asia", "country": "Bhutan", "year": 1997, "value": 0.0041},
      {"region": "South Asia", "country": "Bhutan", "year": 1998, "value": 0.0046},
      {"region": "South Asia", "country": "Bhutan", "year": 1999, "value": 0.0049},
      {"region": "South Asia", "country": "Bhutan", "year": 2000, "value": 0.0050},
      {"region": "South Asia", "country": "Bhutan", "year": 2001, "value": 0.0050},
      {"region": "South Asia", "country": "Bhutan", "year": 2002, "value": 0.0052},
      {"region": "South Asia", "country": "Bhutan", "year": 2003, "value": 0.0053},
      {"region": "South Asia", "country": "Bhutan", "year": 2004, "value": 0.0055},
      {"region": "South Asia", "country": "Bhutan", "year": 2005, "value": 0.0056},
      {"region": "South Asia", "country": "Bhutan", "year": 2006, "value": 0.0056},
      {"region": "South Asia", "country": "Bhutan", "year": 2007, "value": 0.0058},
      {"region": "South Asia", "country": "Bhutan", "year": 2008, "value": 0.0062},
      {"region": "South Asia", "country": "Bhutan", "year": 2009, "value": 0.0067},
      {"region": "South Asia", "country": "Bhutan", "year": 2010, "value": 0.0079},
      {"region": "South Asia", "country": "Bhutan", "year": 2011, "value": 0.0086},
      {"region": "South Asia", "country": "Bhutan", "year": 2012, "value": 0.0096},
      {"region": "South Asia", "country": "Bhutan", "year": 2013, "value": 0.0088},
      {"region": "South Asia", "country": "Bhutan", "year": 2014, "value": 0.0094},
      {"region": "South Asia", "country": "Nepal", "year": 1990, "value": 0.0004},
      {"region": "South Asia", "country": "Nepal", "year": 1992, "value": 0.0004},
      {"region": "South Asia", "country": "Nepal", "year": 1994, "value": 0.0005},
      {"region": "South Asia", "country": "Nepal", "year": 1996, "value": 0.0006},
      {"region": "South Asia", "country": "Nepal", "year": 1998, "value": 0.0008},
      {"region": "South Asia", "country": "Nepal", "year": 2000, "value": 0.0010},
      {"region": "South Asia", "country": "Nepal", "year": 2001, "value": 0.0013},
      {"region": "South Asia", "country": "Nepal", "year": 2002, "value": 0.0014},
      {"region": "South Asia", "country": "Nepal", "year": 2003, "value": 0.0015},
      {"region": "South Asia", "country": "Nepal", "year": 2004, "value": 0.0018},
      {"region": "South Asia", "country": "Nepal", "year": 2005, "value": 0.0020},
      {"region": "South Asia", "country": "Nepal", "year": 2006, "value": 0.0021},
      {"region": "South Asia", "country": "Nepal", "year": 2007, "value": 0.0021},
      {"region": "South Asia", "country": "Nepal", "year": 2008, "value": 0.0025},
      {"region": "South Asia", "country": "Nepal", "year": 2009, "value": 0.0028},
      {"region": "South Asia", "country": "Nepal", "year": 2010, "value": 0.0032},
      {"region": "South Asia", "country": "Nepal", "year": 2011, "value": 0.0036},
      {"region": "South Asia", "country": "Nepal", "year": 2012, "value": 0.0041},
      {"region": "South Asia", "country": "Nepal", "year": 2013, "value": 0.0046},
      {"region": "South Asia", "country": "Nepal", "year": 2014, "value": 0.0051},
      {"region": "South Asia", "country": "Pakistan", "year": 1990, "value": 0.0005},
      {"region": "South Asia", "country": "Pakistan", "year": 1992, "value": 0.0006},
      {"region": "South Asia", "country": "Pakistan", "year": 1994, "value": 0.0007},
      {"region": "South Asia", "country": "Pakistan", "year": 1996, "value": 0.0007},
      {"region": "South Asia", "country": "Pakistan", "year": 1998, "value": 0.0008},
      {"region": "South Asia", "country": "Pakistan", "year": 2000, "value": 0.0009},
      {"region": "South Asia", "country": "Pakistan", "year": 2001, "value": 0.0013},
      {"region": "South Asia", "country": "Pakistan", "year": 2002, "value": 0.0014},
      {"region": "South Asia", "country": "Pakistan", "year": 2003, "value": 0.0016},
      {"region": "South Asia", "country": "Pakistan", "year": 2004, "value": 0.0019},
      {"region": "South Asia", "country": "Pakistan", "year": 2005, "value": 0.0021},
      {"region": "South Asia", "country": "Pakistan", "year": 2006, "value": 0.0022},
      {"region": "South Asia", "country": "Pakistan", "year": 2007, "value": 0.0020},
      {"region": "South Asia", "country": "Pakistan", "year": 2008, "value": 0.0018},
      {"region": "South Asia", "country": "Pakistan", "year": 2009, "value": 0.0016},
      {"region": "South Asia", "country": "Pakistan", "year": 2010, "value": 0.0014},
      {"region": "South Asia", "country": "Pakistan", "year": 2011, "value": 0.0012},
      {"region": "South Asia", "country": "Pakistan", "year": 2012, "value": 0.0012},
      {"region": "South Asia", "country": "Pakistan", "year": 2013, "value": 0.0012},
      {"region": "South Asia", "country": "Pakistan", "year": 2014, "value": 0.0012},
      {"region": "South Asia", "country": "Bangladesh", "year": 1990, "value": 0.0001},
      {"region": "South Asia", "country": "Bangladesh", "year": 2000, "value": 0.0001},
      {"region": "South Asia", "country": "Bangladesh", "year": 2014, "value": 0.0001}
    ]
  },
  "spacing": 0,
  "hconcat": [
    {
      "bounds": "flush",
      "spacing": 11,
      "vconcat": [
        {
          "width": 1042, "height": 240,
          "encoding": {
            "x": {"field": "year", "type": "quantitative", "scale": {"domain": [1988.6, 2019.4], "nice": false, "zero": false},
                  "axis": {"values": [1990, 1995, 2000, 2005, 2010, 2015], "labels": false, "ticks": false, "title": null,
                           "gridColor": {"condition": {"test": "datum.value % 10 === 0", "value": "#cccccc"}, "value": "#dcdcdc"},
                           "gridWidth": {"condition": {"test": "datum.value % 10 === 0", "value": 2}, "value": 1.1}}},
            "y": {"field": "value", "type": "quantitative", "scale": {"domain": [-0.00151, 0.03167], "nice": false, "zero": false},
                  "axis": {"values": [0, 0.005, 0.01, 0.015, 0.02, 0.025, 0.03], "format": ".2f", "title": null,
                           "labelExpr": "round(datum.value * 1000) % 10 === 0 ? datum.label : ''",
                           "tickOpacity": {"condition": {"test": "round(datum.value * 1000) % 10 === 0", "value": 1}, "value": 0},
                           "gridColor": {"condition": {"test": "round(datum.value * 1000) % 10 === 0", "value": "#cccccc"}, "value": "#dcdcdc"},
                           "gridWidth": {"condition": {"test": "round(datum.value * 1000) % 10 === 0", "value": 2}, "value": 1.1}}}
          },
          "layer": [
            {
              "data": {"name": "lpg"},
              "transform": [{"filter": "datum.region === 'Africa'"}],
              "mark": {"type": "line", "strokeWidth": 2.1},
              "encoding": {
                "color": {"field": "region", "type": "nominal", "scale": {"domain": ["Africa", "E. Asia/Pacific", "L. Amer/Carib", "South Asia"], "range": ["#8a2a1f", "#40601a", "#3c6e71", "#7410cc"]}, "legend": null},
                "strokeDash": {"field": "country", "type": "nominal", "legend": null,
                  "scale": {
                    "domain": ["Equatorial Guinea", "Mauritania", "Angola", "Gabon", "Ghana", "Nigeria", "Cameroon", "Cote d'Ivoire", "Senegal", "Kenya", "Sudan", "Zambia", "Tanzania", "Ethiopia", "Mozambique", "Togo", "Congo", "Indonesia", "China", "Cambodia", "Philippines", "Vietnam", "Mongolia", "Peru", "Honduras", "Guatemala", "Nicaragua", "Bolivia", "India", "Sri Lanka", "Bhutan", "Nepal", "Pakistan", "Bangladesh"],
                    "range": [[2, 6.4, 8.5, 6.4], [15, 6.4], [1, 0], [2, 6.4, 8.5, 6.4], [8.5, 8.5], [4.3, 4.3, 12.8, 4.3], [8.5, 8.5], [2, 6.4], [15, 6.4], [1, 0], [4.3, 4.3, 12.8, 4.3], [2, 6.4], [2, 6.4, 8.5, 6.4], [8.5, 8.5], [15, 6.4], [1, 0], [2, 6.4, 8.5, 6.4], [8.5, 8.5], [2, 6.4, 8.5, 6.4], [8.5, 8.5], [1, 0], [2, 6.4], [1, 0], [1, 0], [2, 6.4], [15, 4.3, 2, 4.3], [2, 6.4], [15, 6.4], [1, 0], [4.3, 4.3, 12.8, 4.3], [2, 6.4, 8.5, 6.4], [8.5, 8.5], [12.8, 4.3, 2, 4.3], [8.5, 8.5]]
                  }}
              }
            },
            {
              "data": {"name": "labels"},
              "transform": [{"filter": "datum.region === 'Africa'"}],
              "mark": {"type": "text", "align": "left", "baseline": "middle", "fontSize": 19, "color": "#000000"},
              "encoding": {"text": {"field": "country"}}
            }
          ]
        },
        {
          "width": 1042, "height": 240,
          "encoding": {
            "x": {"field": "year", "type": "quantitative", "scale": {"domain": [1988.6, 2019.4], "nice": false, "zero": false},
                  "axis": {"values": [1990, 1995, 2000, 2005, 2010, 2015], "labels": false, "ticks": false, "title": null,
                           "gridColor": {"condition": {"test": "datum.value % 10 === 0", "value": "#cccccc"}, "value": "#dcdcdc"},
                           "gridWidth": {"condition": {"test": "datum.value % 10 === 0", "value": 2}, "value": 1.1}}},
            "y": {"field": "value", "type": "quantitative", "scale": {"domain": [-0.00151, 0.03167], "nice": false, "zero": false},
                  "axis": {"values": [0, 0.005, 0.01, 0.015, 0.02, 0.025, 0.03], "format": ".2f", "title": "Kg per capita", "titleY": 246,
                           "labelExpr": "round(datum.value * 1000) % 10 === 0 ? datum.label : ''",
                           "tickOpacity": {"condition": {"test": "round(datum.value * 1000) % 10 === 0", "value": 1}, "value": 0},
                           "gridColor": {"condition": {"test": "round(datum.value * 1000) % 10 === 0", "value": "#cccccc"}, "value": "#dcdcdc"},
                           "gridWidth": {"condition": {"test": "round(datum.value * 1000) % 10 === 0", "value": 2}, "value": 1.1}}}
          },
          "layer": [
            {
              "data": {"name": "lpg"},
              "transform": [{"filter": "datum.region === 'E. Asia/Pacific'"}],
              "mark": {"type": "line", "strokeWidth": 2.1},
              "encoding": {
                "color": {"field": "region", "type": "nominal", "scale": {"domain": ["Africa", "E. Asia/Pacific", "L. Amer/Carib", "South Asia"], "range": ["#8a2a1f", "#40601a", "#3c6e71", "#7410cc"]}, "legend": null},
                "strokeDash": {"field": "country", "type": "nominal", "legend": null,
                  "scale": {
                    "domain": ["Equatorial Guinea", "Mauritania", "Angola", "Gabon", "Ghana", "Nigeria", "Cameroon", "Cote d'Ivoire", "Senegal", "Kenya", "Sudan", "Zambia", "Tanzania", "Ethiopia", "Mozambique", "Togo", "Congo", "Indonesia", "China", "Cambodia", "Philippines", "Vietnam", "Mongolia", "Peru", "Honduras", "Guatemala", "Nicaragua", "Bolivia", "India", "Sri Lanka", "Bhutan", "Nepal", "Pakistan", "Bangladesh"],
                    "range": [[2, 6.4, 8.5, 6.4], [15, 6.4], [1, 0], [2, 6.4, 8.5, 6.4], [8.5, 8.5], [4.3, 4.3, 12.8, 4.3], [8.5, 8.5], [2, 6.4], [15, 6.4], [1, 0], [4.3, 4.3, 12.8, 4.3], [2, 6.4], [2, 6.4, 8.5, 6.4], [8.5, 8.5], [15, 6.4], [1, 0], [2, 6.4, 8.5, 6.4], [8.5, 8.5], [2, 6.4, 8.5, 6.4], [8.5, 8.5], [1, 0], [2, 6.4], [1, 0], [1, 0], [2, 6.4], [15, 4.3, 2, 4.3], [2, 6.4], [15, 6.4], [1, 0], [4.3, 4.3, 12.8, 4.3], [2, 6.4, 8.5, 6.4], [8.5, 8.5], [12.8, 4.3, 2, 4.3], [8.5, 8.5]]
                  }}
              }
            },
            {
              "data": {"name": "labels"},
              "transform": [{"filter": "datum.region === 'E. Asia/Pacific'"}],
              "mark": {"type": "text", "align": "left", "baseline": "middle", "fontSize": 19, "color": "#000000"},
              "encoding": {"text": {"field": "country"}}
            }
          ]
        },
        {
          "width": 1042, "height": 240,
          "encoding": {
            "x": {"field": "year", "type": "quantitative", "scale": {"domain": [1988.6, 2019.4], "nice": false, "zero": false},
                  "axis": {"values": [1990, 1995, 2000, 2005, 2010, 2015], "labels": false, "ticks": false, "title": null,
                           "gridColor": {"condition": {"test": "datum.value % 10 === 0", "value": "#cccccc"}, "value": "#dcdcdc"},
                           "gridWidth": {"condition": {"test": "datum.value % 10 === 0", "value": 2}, "value": 1.1}}},
            "y": {"field": "value", "type": "quantitative", "scale": {"domain": [-0.00151, 0.03167], "nice": false, "zero": false},
                  "axis": {"values": [0, 0.005, 0.01, 0.015, 0.02, 0.025, 0.03], "format": ".2f", "title": null,
                           "labelExpr": "round(datum.value * 1000) % 10 === 0 ? datum.label : ''",
                           "tickOpacity": {"condition": {"test": "round(datum.value * 1000) % 10 === 0", "value": 1}, "value": 0},
                           "gridColor": {"condition": {"test": "round(datum.value * 1000) % 10 === 0", "value": "#cccccc"}, "value": "#dcdcdc"},
                           "gridWidth": {"condition": {"test": "round(datum.value * 1000) % 10 === 0", "value": 2}, "value": 1.1}}}
          },
          "layer": [
            {
              "data": {"name": "lpg"},
              "transform": [{"filter": "datum.region === 'L. Amer/Carib'"}],
              "mark": {"type": "line", "strokeWidth": 2.1},
              "encoding": {
                "color": {"field": "region", "type": "nominal", "scale": {"domain": ["Africa", "E. Asia/Pacific", "L. Amer/Carib", "South Asia"], "range": ["#8a2a1f", "#40601a", "#3c6e71", "#7410cc"]}, "legend": null},
                "strokeDash": {"field": "country", "type": "nominal", "legend": null,
                  "scale": {
                    "domain": ["Equatorial Guinea", "Mauritania", "Angola", "Gabon", "Ghana", "Nigeria", "Cameroon", "Cote d'Ivoire", "Senegal", "Kenya", "Sudan", "Zambia", "Tanzania", "Ethiopia", "Mozambique", "Togo", "Congo", "Indonesia", "China", "Cambodia", "Philippines", "Vietnam", "Mongolia", "Peru", "Honduras", "Guatemala", "Nicaragua", "Bolivia", "India", "Sri Lanka", "Bhutan", "Nepal", "Pakistan", "Bangladesh"],
                    "range": [[2, 6.4, 8.5, 6.4], [15, 6.4], [1, 0], [2, 6.4, 8.5, 6.4], [8.5, 8.5], [4.3, 4.3, 12.8, 4.3], [8.5, 8.5], [2, 6.4], [15, 6.4], [1, 0], [4.3, 4.3, 12.8, 4.3], [2, 6.4], [2, 6.4, 8.5, 6.4], [8.5, 8.5], [15, 6.4], [1, 0], [2, 6.4, 8.5, 6.4], [8.5, 8.5], [2, 6.4, 8.5, 6.4], [8.5, 8.5], [1, 0], [2, 6.4], [1, 0], [1, 0], [2, 6.4], [15, 4.3, 2, 4.3], [2, 6.4], [15, 6.4], [1, 0], [4.3, 4.3, 12.8, 4.3], [2, 6.4, 8.5, 6.4], [8.5, 8.5], [12.8, 4.3, 2, 4.3], [8.5, 8.5]]
                  }}
              }
            },
            {
              "data": {"name": "labels"},
              "transform": [{"filter": "datum.region === 'L. Amer/Carib'"}],
              "mark": {"type": "text", "align": "left", "baseline": "middle", "fontSize": 19, "color": "#000000"},
              "encoding": {"text": {"field": "country"}}
            }
          ]
        },
        {
          "width": 1042, "height": 240,
          "encoding": {
            "x": {"field": "year", "type": "quantitative", "scale": {"domain": [1988.6, 2019.4], "nice": false, "zero": false},
                  "axis": {"values": [1990, 1995, 2000, 2005, 2010, 2015], "format": "d", "title": "Year", "titlePadding": 5,
                           "labelExpr": "datum.value % 10 === 0 ? datum.label : ''",
                           "tickOpacity": {"condition": {"test": "datum.value % 10 === 0", "value": 1}, "value": 0},
                           "gridColor": {"condition": {"test": "datum.value % 10 === 0", "value": "#cccccc"}, "value": "#dcdcdc"},
                           "gridWidth": {"condition": {"test": "datum.value % 10 === 0", "value": 2}, "value": 1.1}}},
            "y": {"field": "value", "type": "quantitative", "scale": {"domain": [-0.00151, 0.03167], "nice": false, "zero": false},
                  "axis": {"values": [0, 0.005, 0.01, 0.015, 0.02, 0.025, 0.03], "format": ".2f", "title": null,
                           "labelExpr": "round(datum.value * 1000) % 10 === 0 ? datum.label : ''",
                           "tickOpacity": {"condition": {"test": "round(datum.value * 1000) % 10 === 0", "value": 1}, "value": 0},
                           "gridColor": {"condition": {"test": "round(datum.value * 1000) % 10 === 0", "value": "#cccccc"}, "value": "#dcdcdc"},
                           "gridWidth": {"condition": {"test": "round(datum.value * 1000) % 10 === 0", "value": 2}, "value": 1.1}}}
          },
          "layer": [
            {
              "data": {"name": "lpg"},
              "transform": [{"filter": "datum.region === 'South Asia'"}],
              "mark": {"type": "line", "strokeWidth": 2.1},
              "encoding": {
                "color": {"field": "region", "type": "nominal", "scale": {"domain": ["Africa", "E. Asia/Pacific", "L. Amer/Carib", "South Asia"], "range": ["#8a2a1f", "#40601a", "#3c6e71", "#7410cc"]}, "legend": null},
                "strokeDash": {"field": "country", "type": "nominal", "legend": null,
                  "scale": {
                    "domain": ["Equatorial Guinea", "Mauritania", "Angola", "Gabon", "Ghana", "Nigeria", "Cameroon", "Cote d'Ivoire", "Senegal", "Kenya", "Sudan", "Zambia", "Tanzania", "Ethiopia", "Mozambique", "Togo", "Congo", "Indonesia", "China", "Cambodia", "Philippines", "Vietnam", "Mongolia", "Peru", "Honduras", "Guatemala", "Nicaragua", "Bolivia", "India", "Sri Lanka", "Bhutan", "Nepal", "Pakistan", "Bangladesh"],
                    "range": [[2, 6.4, 8.5, 6.4], [15, 6.4], [1, 0], [2, 6.4, 8.5, 6.4], [8.5, 8.5], [4.3, 4.3, 12.8, 4.3], [8.5, 8.5], [2, 6.4], [15, 6.4], [1, 0], [4.3, 4.3, 12.8, 4.3], [2, 6.4], [2, 6.4, 8.5, 6.4], [8.5, 8.5], [15, 6.4], [1, 0], [2, 6.4, 8.5, 6.4], [8.5, 8.5], [2, 6.4, 8.5, 6.4], [8.5, 8.5], [1, 0], [2, 6.4], [1, 0], [1, 0], [2, 6.4], [15, 4.3, 2, 4.3], [2, 6.4], [15, 6.4], [1, 0], [4.3, 4.3, 12.8, 4.3], [2, 6.4, 8.5, 6.4], [8.5, 8.5], [12.8, 4.3, 2, 4.3], [8.5, 8.5]]
                  }}
              }
            },
            {
              "data": {"name": "labels"},
              "transform": [{"filter": "datum.region === 'South Asia'"}],
              "mark": {"type": "text", "align": "left", "baseline": "middle", "fontSize": 19, "color": "#000000"},
              "encoding": {"text": {"field": "country"}}
            }
          ]
        }
      ]
    },
    {
      "spacing": 11,
      "vconcat": [
        {
          "width": 25, "height": 240,
          "view": {"fill": "#cccccc", "stroke": null},
          "data": {"name": "strips"},
          "transform": [{"filter": "datum.region === 'Africa'"}],
          "mark": {"type": "text", "angle": 90, "fontSize": 18.3, "color": "#1a1a1a", "align": "center", "baseline": "middle", "dy": -2},
          "encoding": {"text": {"field": "region"}}
        },
        {
          "width": 25, "height": 240,
          "view": {"fill": "#cccccc", "stroke": null},
          "data": {"name": "strips"},
          "transform": [{"filter": "datum.region === 'E. Asia/Pacific'"}],
          "mark": {"type": "text", "angle": 90, "fontSize": 18.3, "color": "#1a1a1a", "align": "center", "baseline": "middle", "dy": -2},
          "encoding": {"text": {"field": "region"}}
        },
        {
          "width": 25, "height": 240,
          "view": {"fill": "#cccccc", "stroke": null},
          "data": {"name": "strips"},
          "transform": [{"filter": "datum.region === 'L. Amer/Carib'"}],
          "mark": {"type": "text", "angle": 90, "fontSize": 18.3, "color": "#1a1a1a", "align": "center", "baseline": "middle", "dy": -2},
          "encoding": {"text": {"field": "region"}}
        },
        {
          "width": 25, "height": 240,
          "view": {"fill": "#cccccc", "stroke": null},
          "data": {"name": "strips"},
          "transform": [{"filter": "datum.region === 'South Asia'"}],
          "mark": {"type": "text", "angle": 90, "fontSize": 18.3, "color": "#1a1a1a", "align": "center", "baseline": "middle", "dy": -2},
          "encoding": {"text": {"field": "region"}}
        }
      ]
    }
  ],
  "config": {
    "font": "Liberation Sans",
    "view": {"stroke": null},
    "axis": {
      "domain": false,
      "grid": true,
      "labelFontSize": 18.3,
      "labelColor": "#4d4d4d",
      "labelPadding": 5,
      "tickColor": "#333333",
      "tickSize": 6,
      "tickWidth": 1.2,
      "titleFontSize": 22,
      "titleFontWeight": "normal",
      "titleColor": "#000000",
      "titlePadding": 15
    }
  }
}
